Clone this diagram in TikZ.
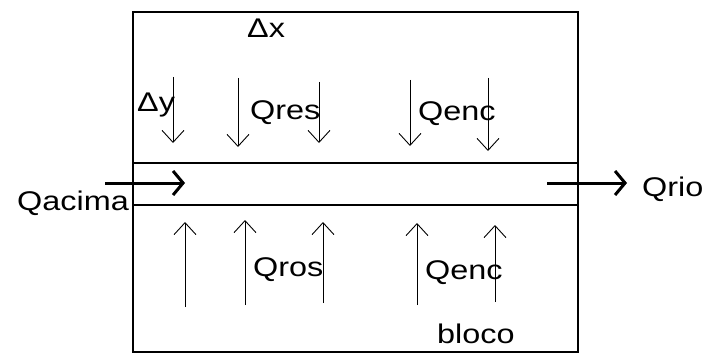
\documentclass[tikz,border=0pt]{standalone}
\usepackage{fontspec}
\setmainfont[FakeStretch=1.2]{Liberation Sans}
\usetikzlibrary{arrows.meta}
\begin{document}
\begin{tikzpicture}[x=1pt,y=-1pt,
  lbl/.style={font=\fontsize{27}{27}\selectfont, inner sep=0pt, anchor=base west},
  thin arrow/.style={line width=0.9pt, -{Straight Barb[length=12pt,width=22pt]}},
  thick arrow/.style={line width=3pt, -{Straight Barb[length=10pt,width=24pt]}},
  wall/.style={line width=1.3pt}]
\useasboundingbox (0,0) rectangle (705,353);
% box and channel
\coordinate (tl) at (133,12);
\coordinate (br) at (578,352);
\draw[wall] (tl) rectangle (br);
\coordinate (c1l) at (133,163); \coordinate (c1r) at (578,163);
\coordinate (c2l) at (133,205); \coordinate (c2r) at (578,205);
\draw[wall] (c1l) -- (c1r);
\draw[wall] (c2l) -- (c2r);
% labels
\node[lbl] (dx) at (247,38) {Δx};
\node[lbl] (dy) at (137,111) {Δy};
\node[lbl] (qres) at (250,120) {Qres};
\node[lbl] (qenc1) at (418,121) {Qenc};
\node[lbl] (qros) at (253,276) {Qros};
\node[lbl] (qenc2) at (425,279) {Qenc};
\node[lbl] (bloco) at (437,343) {bloco};
\node[lbl, anchor=base east] (qacima) at (129,210) {Qacima};
\node[lbl] (qrio) at (642,196) {Qrio};
% top arrows (down)
\foreach \i/\x/\a/\b in {1/173/77/143, 2/238/78/147, 3/319/82/143, 4/410/80/146, 5/488/78/151}{
  \coordinate (d\i s) at (\x,\a);
  \coordinate (d\i e) at (\x,\b);
  \draw[thin arrow] (d\i s) -- (d\i e);
}
% bottom arrows (up)
\foreach \i/\x/\a/\b in {1/185/307/222, 2/245/305/220, 3/323/303/222, 4/417/305/223, 5/495/302/225}{
  \coordinate (u\i s) at (\x,\a);
  \coordinate (u\i e) at (\x,\b);
  \draw[thin arrow] (u\i s) -- (u\i e);
}
% thick flow arrows
\coordinate (ins) at (105,183); \coordinate (ine) at (185,183);
\draw[thick arrow] (ins) -- (ine);
\coordinate (outs) at (547,183); \coordinate (oute) at (627,183);
\draw[thick arrow] (outs) -- (oute);
\end{tikzpicture}
\end{document}
